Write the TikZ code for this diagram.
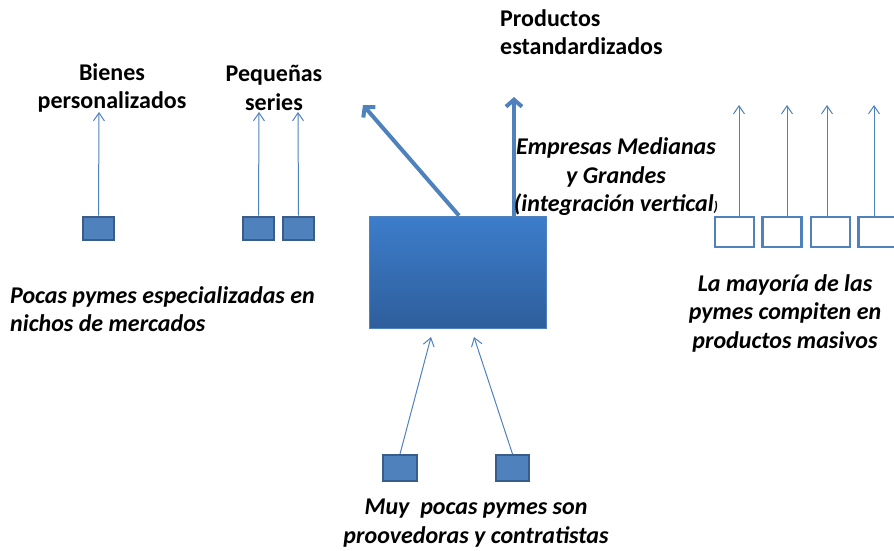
\documentclass[tikz,border=0pt]{standalone}
\usepackage{fontspec}
\setmainfont{Carlito}
\usetikzlibrary{arrows.meta}
\definecolor{accent}{RGB}{79,129,189}
\definecolor{accentdark}{RGB}{56,93,138}
\definecolor{gradtop}{RGB}{61,125,203}
\definecolor{gradbot}{RGB}{46,94,156}
\tikzset{
  smallsq/.style={draw=accentdark, line width=2pt, fill=accent, minimum width=31pt, minimum height=23pt, inner sep=0pt},
  opensq/.style={draw=accent, line width=2.5pt, fill=white, minimum width=39pt, minimum height=30pt, inner sep=0pt},
  thinarrow/.style={draw=accent, line width=1pt, -{Straight Barb[length=8pt,width=11pt]}},
  thickarrow/.style={draw=accent, line width=4pt, -{Straight Barb[length=7pt,width=16pt]}},
  lbl/.style={font=\fontsize{24}{28.5}\selectfont\bfseries, inner sep=0pt},
  ilbl/.style={font=\fontsize{24}{28.5}\selectfont\bfseries\itshape, inner sep=0pt},
}
\begin{document}
\begin{tikzpicture}[x=1pt,y=-1pt]
\useasboundingbox (0,0) rectangle (894,550);
% central box
\node[draw=accent, line width=0.8pt, top color=gradtop, bottom color=gradbot, minimum width=177pt, minimum height=112pt, inner sep=0pt] (big) at (457.5,272) {};
% thick arrows
\coordinate (tl) at (363,105);
\coordinate (tv) at (514,97);
\draw[thickarrow] (big.north -| 459,0) -- (tl);
\draw[thickarrow] (big.north -| 514,0) -- (tv);
% left squares
\node[smallsq] (b1) at (98.5,228) {};
\node[smallsq] (p1) at (258.5,228) {};
\node[smallsq] (p2) at (298.5,228) {};
\coordinate (b1t) at (99,112);
\coordinate (p1t) at (259,112);
\coordinate (p2t) at (298,112);
\draw[thinarrow] (b1.north) -- (b1t);
\draw[thinarrow] (p1.north) -- (p1t);
\draw[thinarrow] (p2.north) -- (p2t);
% right open squares
\node[opensq] (r1) at (734.5,232) {};
\node[opensq] (r2) at (782,232) {};
\node[opensq] (r3) at (830.5,232) {};
\node[opensq] (r4) at (878,232) {};
\coordinate (r1t) at (739,105);
\coordinate (r2t) at (787,105);
\coordinate (r3t) at (827,105);
\coordinate (r4t) at (874,105);
\draw[thinarrow] (r1.north -| r1t) -- (r1t);
\draw[thinarrow] (r2.north -| r2t) -- (r2t);
\draw[thinarrow] (r3.north -| r3t) -- (r3t);
\draw[thinarrow] (r4.north -| r4t) -- (r4t);
% bottom squares
\node[smallsq, minimum width=34pt, minimum height=26pt] (s1) at (400,468) {};
\node[smallsq, minimum width=33pt, minimum height=26pt] (s2) at (512.5,468) {};
\coordinate (s1t) at (431,337);
\coordinate (s2t) at (474,337);
\draw[thinarrow] (s1.north) -- (s1t);
\draw[thinarrow] (s2.north) -- (s2t);
% labels
\node[lbl, align=left, anchor=west] (prod) at (500,32) {Productos\\estandardizados};
\node[lbl, align=center] (bien) at (112,88) {Bienes\\personalizados};
\node[lbl, align=center] (peq) at (274,88) {Pequeñas\\series};
\node[ilbl, align=center] (emp) at (616,177) {Empresas Medianas\\y Grandes\\(integración vertical{\fontsize{14}{14}\selectfont)}};
\node[ilbl, align=left, anchor=west] (pocas) at (10,309) {Pocas pymes especializadas en\\nichos de mercados};
\node[ilbl, align=center] (mayor) at (785,313) {La mayoría de las\\pymes compiten en\\productos masivos};
\node[ilbl, align=center] (muy) at (476,523) {Muy\ \ pocas pymes son\\proovedoras y contratistas};
\end{tikzpicture}
\end{document}
